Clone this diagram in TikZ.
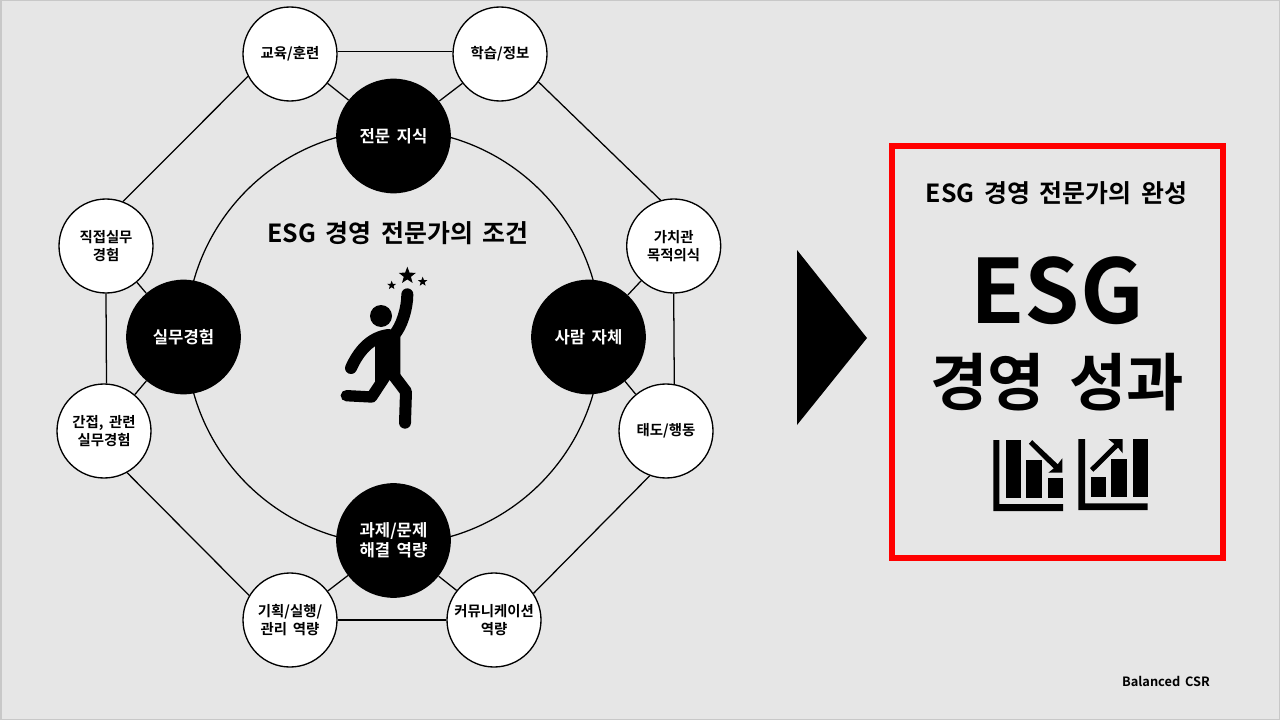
\documentclass[tikz,border=0pt]{standalone}
\usepackage{fontspec}
\setmainfont{Noto Sans CJK KR}[BoldFont={* Bold},WordSpace=1.7]
\usetikzlibrary{shapes.geometric}
\definecolor{bgc}{HTML}{E6E6E6}
\definecolor{framec}{HTML}{C8C8C8}
\definecolor{redc}{HTML}{FF0000}
\tikzset{
  px/.style={x=0.75pt,y=-0.75pt},
  link/.style={draw=black,line width=0.95pt},
  small/.style={circle,draw=black,line width=1pt,fill=white,minimum size=70.5pt,inner sep=0pt,align=center,font=\fontsize{10.8pt}{13.5pt}\selectfont\bfseries,text=black},
  big/.style={circle,fill=black,minimum size=86pt,inner sep=0pt,align=center,font=\fontsize{12.5pt}{15pt}\selectfont\bfseries,text=white},
  txt/.style={inner sep=0pt,text=black,font=\bfseries},
  blk/.style={fill=black,draw=none},
  limb/.style={draw=black,line cap=round,line join=round,line width=9pt},
  starry/.style={star,star points=5,star point ratio=2.4,fill=black,inner sep=0pt},
}
\begin{document}
\begin{tikzpicture}[px]
\useasboundingbox (0,0) rectangle (1280,720);
\fill[bgc] (0,0) rectangle (1280,720);
\draw[framec,line width=1.5pt] (0.5,0.5) rectangle (1279.5,719.5);
% ring
\coordinate (ringc) at (393.5,337);
\draw[link] (ringc) circle [radius=207.5];
% small nodes
\node[small] (edu) at (290,54) {교육/훈련};
\node[small] (learn) at (500,54) {학습/정보};
\node[small] (direct) at (106,246) {직접실무\\경험};
\node[small] (indirect) at (104,431) {간접, 관련\\실무경험};
\node[small] (value) at (673.7,246) {가치관\\목적의식};
\node[small] (attitude) at (666,431) {태도/행동};
\node[small] (plan) at (290,620) {기획/실행/\\관리 역량};
\node[small] (comm) at (494,620) {커뮤니케이션\\역량};
% big nodes
\node[big] (know) at (393.5,136) {전문 지식};
\node[big] (exp) at (183.5,337) {실무경험};
\node[big] (person) at (588.5,337) {사람 자체};
\node[big] (task) at (393.5,540.5) {과제/문제\\해결 역량};
% links
\draw[link] (edu.3) -- (learn.177);
\draw[link] (edu.-38) -- (know);
\draw[link] (learn.218) -- (know);
\draw[link] (edu.208.7) -- (direct.69);
\draw[link] (learn.-36) -- (value.106);
\draw[link] (direct.270) -- (indirect.87.5);
\draw[link] (direct) -- (exp);
\draw[link] (indirect) -- (exp);
\draw[link] (value.-90) -- (attitude.80.6);
\draw[link] (value) -- (person);
\draw[link] (attitude) -- (person);
\draw[link] (attitude.250.8) -- (comm.34);
\draw[link] (indirect.-61) -- (plan.149);
\draw[link] (plan.east) -- (comm.west);
\draw[link] (plan) -- (task);
\draw[link] (comm) -- (task);
% titles
\node[txt,font=\fontsize{18.7pt}{22pt}\selectfont\bfseries] (lefttitle) at (398,233.5) {ESG 경영 전문가의 조건};
% jumping figure
\begin{scope}[shift={(320,250)},x=0.25pt,y=-0.25pt]
  \fill[black] (183,198) circle [radius=33];
  \fill[black] (165,255) -- (241,240) -- (241,378) -- (205,388) -- (165,400) -- cycle;
  \draw[limb] (93,354) .. controls (115,305) and (150,262) .. (205,255);
  \draw[limb] (262,133) .. controls (262,175) and (245,230) .. (222,255);
  \draw[limb,line width=8.5pt] (79,437) -- (155,441) -- (205,365);
  \draw[limb] (205,355) -- (258,425) -- (255,518);
  \node[starry,minimum size=13.5pt] (bigstar) at (262,77) {};
  \node[starry,minimum size=7pt] (leftstar) at (215,106) {};
  \node[starry,minimum size=7.5pt] (rightstar) at (308,95) {};
\end{scope}
% arrow triangle
\fill[black] (797,250) -- (867,338) -- (797,425) -- cycle;
% result box
\node[draw=redc,line width=4.9pt,minimum width=248.5pt,minimum height=309pt,inner sep=0pt] (resultbox) at (1057.5,352) {};
\node[txt,font=\fontsize{18.7pt}{22pt}\selectfont\bfseries] (boxtitle) at (1056.5,193.5) {ESG 경영 전문가의 완성};
\node[txt,font=\fontsize{66.5pt}{76pt}\selectfont\bfseries] (esgbig) at (1057,291) {ESG};
\node[txt,font=\fontsize{46.8pt}{54pt}\selectfont\bfseries] (perf) at (1057,382) {경영 성과};
% chart icons
\begin{scope}[blk]
  \fill (993.3,440) -- (999.3,440) -- (999.3,504) -- (1063,504) -- (1063,511) -- (993.3,511) -- cycle;
  \fill (1005.7,440) rectangle (1021,498.3);
  \fill (1026.3,460) rectangle (1042,498.3);
  \fill (1047.7,478.3) rectangle (1062.7,498.3);
  \fill (1032.2,440.2) -- (1028.8,443.8) -- (1053.7,468.4) -- (1048.3,472.7) -- (1062.3,472.7) -- (1062.3,458.3) -- (1057.7,464.3) -- cycle;
  \fill (1078.3,439) -- (1085,439) -- (1085,503.3) -- (1147.7,503.3) -- (1147.7,510) -- (1078.3,510) -- cycle;
  \fill (1090.7,476.7) rectangle (1106,497.3);
  \fill (1111.3,459) rectangle (1127,497.3);
  \fill (1132.7,439) rectangle (1147.7,497.3);
  \fill (1090,468.2) -- (1093.4,471.8) -- (1118,447.5) -- (1122.7,453.3) -- (1122.7,439) -- (1108.3,439) -- (1114.4,444) -- cycle;
\end{scope}
\node[txt,font=\fontsize{9.6pt}{12pt}\selectfont\bfseries] (credit) at (1166,681) {Balanced CSR};
\end{tikzpicture}
\end{document}
